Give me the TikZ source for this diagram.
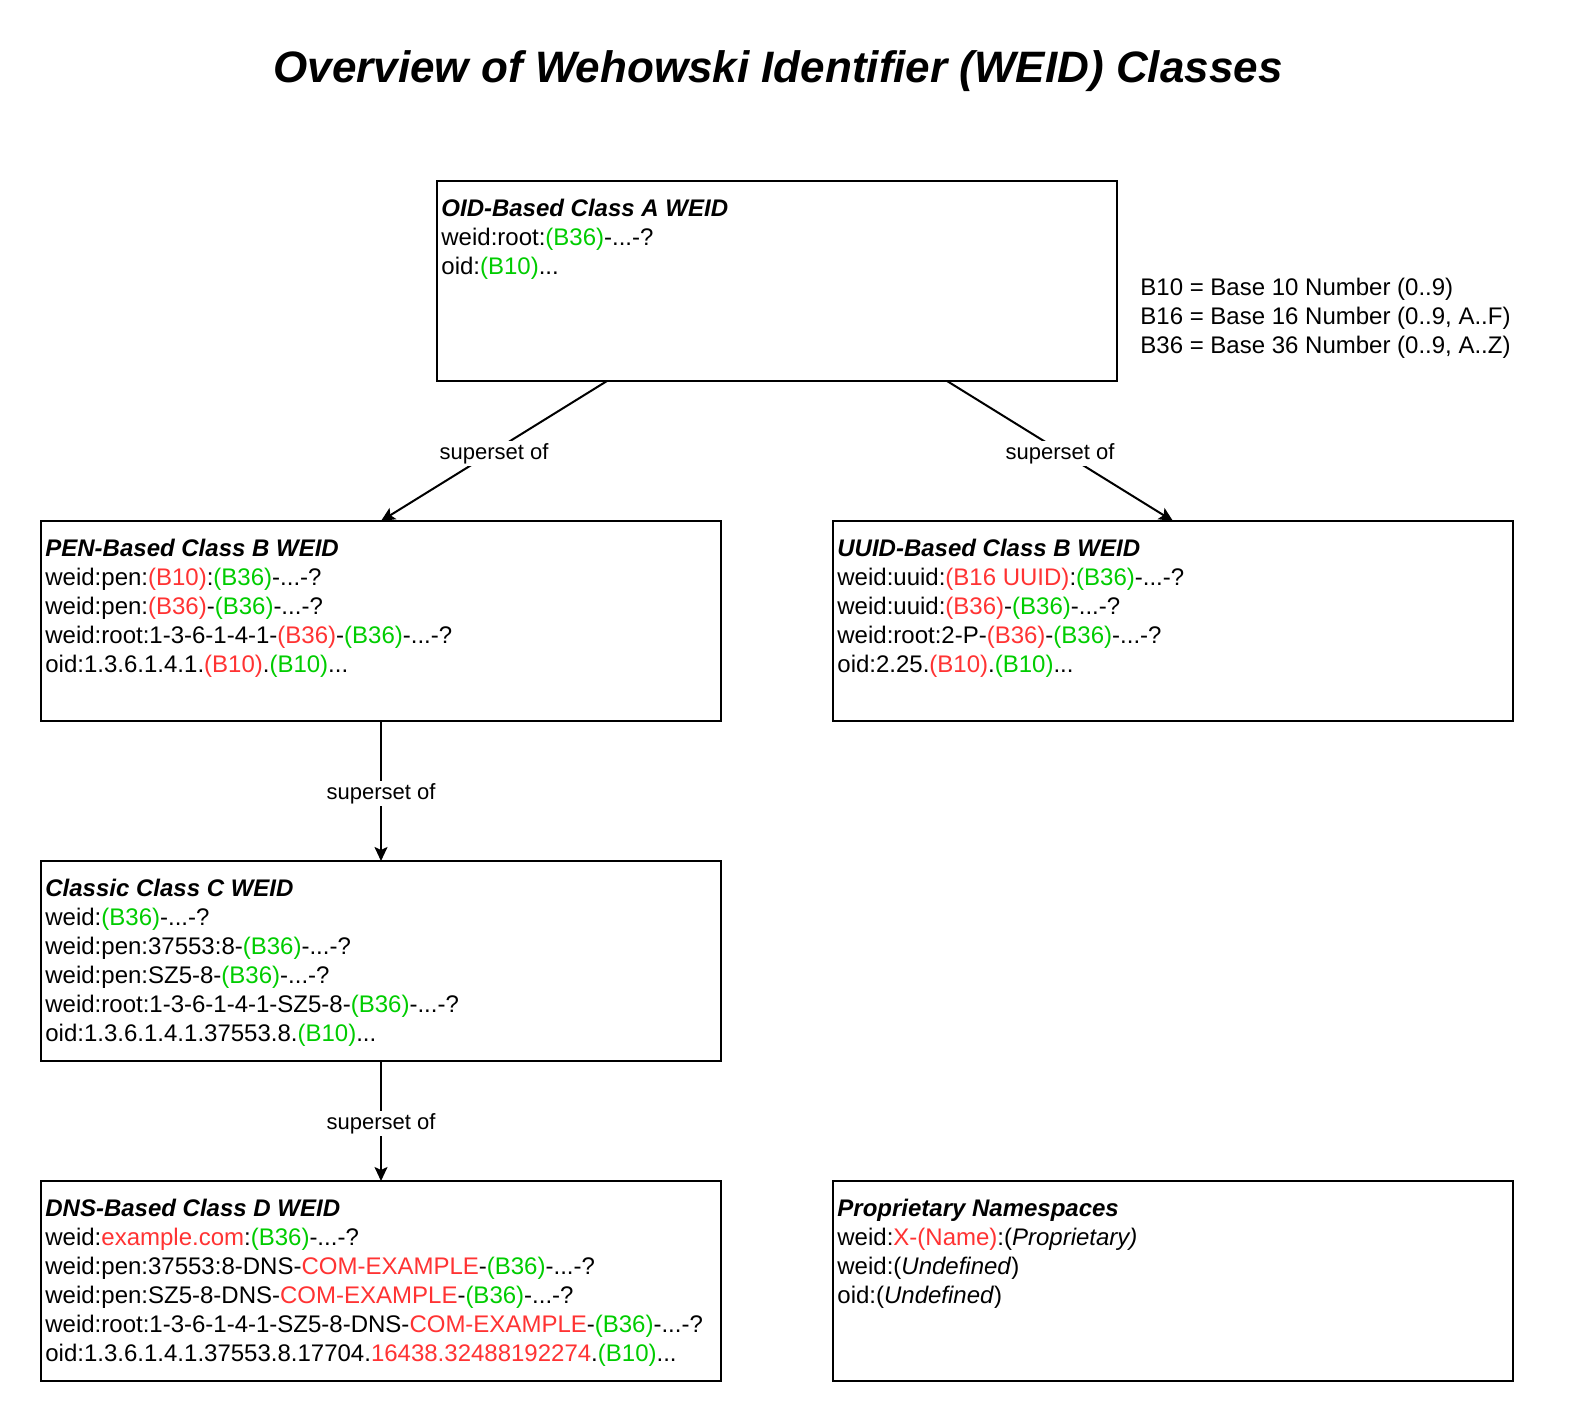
\documentclass[tikz,border=0pt]{standalone}
\usepackage{fontspec}
\setmainfont{Liberation Sans}
\usetikzlibrary{arrows.meta,calc}
\definecolor{wred}{RGB}{255,51,51}
\definecolor{wgreen}{RGB}{0,204,0}
\newcommand{\rtx}[1]{\textcolor{wred}{#1}}
\newcommand{\gtx}[1]{\textcolor{wgreen}{#1}}
\newcommand{\bit}[1]{\textbf{\textit{#1}}}
\begin{document}
\begin{tikzpicture}[x=0.5pt,y=-0.5pt,
  box/.style={draw, line width=1pt, minimum width=340pt, minimum height=100pt, anchor=north west, inner sep=0pt, outer sep=0pt},
  txt/.style={anchor=north west, inner sep=0pt, align=left, font=\fontsize{12pt}{14.5pt}\selectfont},
  conn/.style={line width=1pt, -{Stealth[length=7pt,width=6.5pt,inset=1.5pt]}},
  lbl/.style={fill=white, inner sep=1pt, yshift=-1.2pt, font=\fontsize{11pt}{13pt}\selectfont}]
\useasboundingbox (0,0) rectangle (1578,1422);

\node[font=\fontsize{22pt}{26pt}\selectfont\bfseries\itshape, anchor=base] (title) at (778,83) {Overview of Wehowski Identifier (WEID) Classes};

\node[box] (A) at (437,181) {};
\node[box] (PEN) at (41,521) {};
\node[box] (UUID) at (833,521) {};
\node[box] (C) at (41,861) {};
\node[box] (DNS) at (41,1181) {};
\node[box] (PROP) at (833,1181) {};

\node[txt] (tA) at ([shift={(4,18)}]A.north west) {\bit{OID-Based Class A WEID}\\
weid:root:\gtx{(B36)}-...-?\\
oid:\gtx{(B10)}...};

\node[txt] (tPEN) at ([shift={(4,18)}]PEN.north west) {\bit{PEN-Based Class B WEID}\\
weid:pen:\rtx{(B10)}:\gtx{(B36)}-...-?\\
weid:pen:\rtx{(B36)}-\gtx{(B36)}-...-?\\
weid:root:1-3-6-1-4-1-\rtx{(B36)}-\gtx{(B36)}-...-?\\
oid:1.3.6.1.4.1.\rtx{(B10)}.\gtx{(B10)}...};

\node[txt] (tUUID) at ([shift={(4,18)}]UUID.north west) {\bit{UUID-Based Class B WEID}\\
weid:uuid:\rtx{(B16 UUID)}:\gtx{(B36)}-...-?\\
weid:uuid:\rtx{(B36)}-\gtx{(B36)}-...-?\\
weid:root:2-P-\rtx{(B36)}-\gtx{(B36)}-...-?\\
oid:2.25.\rtx{(B10)}.\gtx{(B10)}...};

\node[txt] (tC) at ([shift={(4,18)}]C.north west) {\bit{Classic Class C WEID}\\
weid:\gtx{(B36)}-...-?\\
weid:pen:37553:8-\gtx{(B36)}-...-?\\
weid:pen:SZ5-8-\gtx{(B36)}-...-?\\
weid:root:1-3-6-1-4-1-SZ5-8-\gtx{(B36)}-...-?\\
oid:1.3.6.1.4.1.37553.8.\gtx{(B10)}...};

\node[txt] (tDNS) at ([shift={(4,18)}]DNS.north west) {\bit{DNS-Based Class D WEID}\\
weid:\rtx{example.com}:\gtx{(B36)}-...-?\\
weid:pen:37553:8-DNS-\rtx{COM-EXAMPLE}-\gtx{(B36)}-...-?\\
weid:pen:SZ5-8-DNS-\rtx{COM-EXAMPLE}-\gtx{(B36)}-...-?\\
weid:root:1-3-6-1-4-1-SZ5-8-DNS-\rtx{COM-EXAMPLE}-\gtx{(B36)}-...-?\\
oid:1.3.6.1.4.1.37553.8.17704.\rtx{16438.32488192274}.\gtx{(B10)}...};

\node[txt] (tPROP) at ([shift={(4,18)}]PROP.north west) {\bit{Proprietary Namespaces}\\
weid:\rtx{X-(Name)}:(\textit{Proprietary)}\\
weid:(\textit{Undefined})\\
oid:(\textit{Undefined})};

\node[txt] (legend) at (1140,278) {B10 = Base 10 Number (0..9)\\
B16 = Base 16 Number (0..9, A..F)\\
B36 = Base 36 Number (0..9, A..Z)};

\draw[conn] ($(A.south west)!0.25!(A.south east)$) -- node[lbl] {superset of} (PEN.north);
\draw[conn] ($(A.south west)!0.75!(A.south east)$) -- node[lbl] {superset of} (UUID.north);
\draw[conn] (PEN.south) -- node[lbl] {superset of} (C.north);
\draw[conn] (C.south) -- node[lbl] {superset of} (DNS.north);
\end{tikzpicture}
\end{document}
